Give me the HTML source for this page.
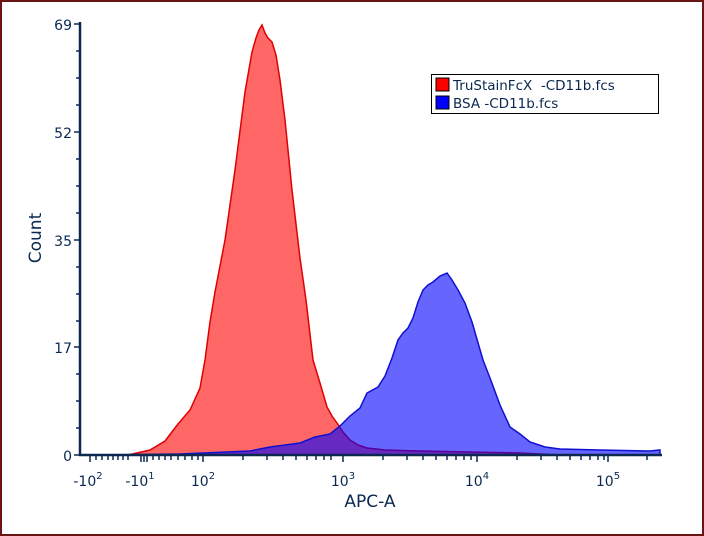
<!DOCTYPE html>
<html><head><meta charset="utf-8"><style>
body{margin:0;background:#fff}
svg{display:block}
text{font-family:"DejaVu Sans","Liberation Sans",sans-serif}
</style></head><body>
<svg width="704" height="536" viewBox="0 0 704 536" xmlns="http://www.w3.org/2000/svg">
<rect x="1" y="1" width="702" height="534" fill="#fff" stroke="#6b1414" stroke-width="2"/>
<polygon fill="rgba(255,0,0,0.6)" stroke="#e00000" stroke-width="1.5" points="128,455 150,450 165,441 178,424 190,410 200,388 205,360 210,322 215,292 225,240 235,170 245,92 252,52 256,38 259,30 262,25 265,33 268,38 272,42 276,55 280,80 285,120 292,190 300,258 306,300 313,360 320,383 327,407 332,416 337,423 343,432 350,440 358,445 367,448 385,450 420,451 470,452 520,453 560,455"/>
<polygon fill="rgba(0,0,255,0.6)" stroke="#1010d0" stroke-width="1.5" points="100,455 180,454 250,451 270,447 300,443 315,437 330,434 340,426 350,416 360,408 367,393 378,387 385,376 392,358 398,340 403,333 408,328 413,318 418,302 423,290 428,285 433,282 440,276 447,273 452,280 458,290 465,303 472,322 483,360 490,378 500,405 510,427 520,434 530,442 545,447 560,449 600,450 650,451 660,450 660,455"/>
<g stroke="#0a2850" stroke-width="2.5" fill="none">
<line x1="80" y1="22" x2="80" y2="456"/>
<line x1="79" y1="455" x2="662" y2="455"/>
</g>
<g stroke="#0a2850" stroke-width="1.5">
<line x1="74" y1="24" x2="80" y2="24"/><line x1="76" y1="51" x2="80" y2="51"/><line x1="76" y1="78" x2="80" y2="78"/><line x1="76" y1="105" x2="80" y2="105"/>
<line x1="74" y1="132" x2="80" y2="132"/><line x1="76" y1="159" x2="80" y2="159"/><line x1="76" y1="186" x2="80" y2="186"/><line x1="76" y1="213" x2="80" y2="213"/>
<line x1="74" y1="240" x2="80" y2="240"/><line x1="76" y1="267" x2="80" y2="267"/><line x1="76" y1="294" x2="80" y2="294"/><line x1="76" y1="321" x2="80" y2="321"/>
<line x1="74" y1="347" x2="80" y2="347"/><line x1="76" y1="374" x2="80" y2="374"/><line x1="76" y1="401" x2="80" y2="401"/><line x1="76" y1="428" x2="80" y2="428"/>
<line x1="74" y1="455" x2="80" y2="455"/>
<line x1="90" y1="455" x2="90" y2="462"/>
<line x1="96" y1="455" x2="96" y2="460"/><line x1="102" y1="455" x2="102" y2="460"/><line x1="108" y1="455" x2="108" y2="460"/><line x1="113" y1="455" x2="113" y2="460"/><line x1="118" y1="455" x2="118" y2="460"/><line x1="123" y1="455" x2="123" y2="460"/><line x1="128" y1="455" x2="128" y2="460"/>
<line x1="141" y1="455" x2="141" y2="462"/><line x1="144" y1="455" x2="144" y2="462"/><line x1="147" y1="455" x2="147" y2="462"/>
<line x1="153" y1="455" x2="153" y2="460"/><line x1="159" y1="455" x2="159" y2="460"/><line x1="165" y1="455" x2="165" y2="460"/><line x1="171" y1="455" x2="171" y2="460"/><line x1="178" y1="455" x2="178" y2="460"/><line x1="185" y1="455" x2="185" y2="460"/><line x1="192" y1="455" x2="192" y2="460"/><line x1="198" y1="455" x2="198" y2="460"/>
<line x1="203" y1="455" x2="203" y2="462"/>
<line x1="243" y1="455" x2="243" y2="460"/><line x1="267" y1="455" x2="267" y2="460"/><line x1="283" y1="455" x2="283" y2="460"/><line x1="296" y1="455" x2="296" y2="460"/><line x1="307" y1="455" x2="307" y2="460"/><line x1="316" y1="455" x2="316" y2="460"/><line x1="324" y1="455" x2="324" y2="460"/><line x1="331" y1="455" x2="331" y2="460"/>
<line x1="343" y1="455" x2="343" y2="462"/>
<line x1="383" y1="455" x2="383" y2="460"/><line x1="407" y1="455" x2="407" y2="460"/><line x1="423" y1="455" x2="423" y2="460"/><line x1="436" y1="455" x2="436" y2="460"/><line x1="447" y1="455" x2="447" y2="460"/><line x1="456" y1="455" x2="456" y2="460"/><line x1="464" y1="455" x2="464" y2="460"/><line x1="471" y1="455" x2="471" y2="460"/>
<line x1="477" y1="455" x2="477" y2="462"/>
<line x1="517" y1="455" x2="517" y2="460"/><line x1="541" y1="455" x2="541" y2="460"/><line x1="557" y1="455" x2="557" y2="460"/><line x1="570" y1="455" x2="570" y2="460"/><line x1="581" y1="455" x2="581" y2="460"/><line x1="590" y1="455" x2="590" y2="460"/><line x1="598" y1="455" x2="598" y2="460"/><line x1="604" y1="455" x2="604" y2="460"/>
<line x1="608" y1="455" x2="608" y2="462"/>
<line x1="647" y1="455" x2="647" y2="460"/>
</g>
<g fill="#0a2850" font-size="14" text-anchor="end">
<text x="72" y="30">69</text><text x="72" y="138">52</text><text x="72" y="246">35</text><text x="72" y="353">17</text><text x="72" y="461">0</text>
</g>
<g fill="#0a2850" font-size="14" text-anchor="middle">
<text x="88" y="486">-10<tspan dy="-7" font-size="10">2</tspan></text>
<text x="140" y="486">-10<tspan dy="-7" font-size="10">1</tspan></text>
<text x="203" y="486">10<tspan dy="-7" font-size="10">2</tspan></text>
<text x="343" y="486">10<tspan dy="-7" font-size="10">3</tspan></text>
<text x="477" y="486">10<tspan dy="-7" font-size="10">4</tspan></text>
<text x="608" y="486">10<tspan dy="-7" font-size="10">5</tspan></text>
</g>
<text x="370" y="507" fill="#0a2850" font-size="17" text-anchor="middle">APC-A</text>
<text transform="translate(41,238) rotate(-90)" fill="#0a2850" font-size="17" text-anchor="middle">Count</text>
<rect x="431.5" y="74.5" width="227" height="39" fill="#fff" stroke="#000" stroke-width="1"/>
<rect x="436" y="78" width="13" height="13" fill="#ff0000" stroke="#000" stroke-width="1"/>
<rect x="436" y="96" width="13" height="13" fill="#0000ff" stroke="#000" stroke-width="1"/>
<text x="453" y="90" font-size="13.5" fill="#0a2850" xml:space="preserve">TruStainFcX  -CD11b.fcs</text>
<text x="453" y="108" font-size="13.5" fill="#0a2850">BSA -CD11b.fcs</text>
</svg>
</body></html>
